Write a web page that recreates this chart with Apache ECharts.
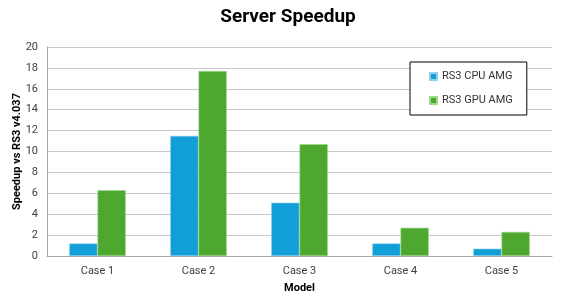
<!DOCTYPE html>
<html>
<head>
<meta charset="utf-8">
<script src="https://cdn.jsdelivr.net/npm/echarts@6/dist/echarts.min.js"></script>
<style>
  html, body { margin: 0; padding: 0; background: #fff; }
  #chart { width: 576px; height: 301px; }
</style>
</head>
<body>
<div id="chart"></div>
<script>
// data
const categories = ["Case 1", "Case 2", "Case 3", "Case 4", "Case 5"];
const cpuAmg = [1.2, 11.5, 5.1, 1.2, 0.7];
const gpuAmg = [6.3, 17.7, 10.7, 2.7, 2.3];
const seriesNames = ["RS3 CPU AMG", "RS3 GPU AMG"];

const chart = echarts.init(document.getElementById("chart"));
const font = "Roboto, 'Liberation Sans', sans-serif";

const option = {
  animation: false,
  title: {
    text: "Server Speedup",
    left: "center",
    top: 3,
    textStyle: { fontFamily: font, fontSize: 19, fontWeight: "bold", color: "#000" }
  },
  legend: {
    orient: "vertical",
    left: 410,
    top: 62,
    padding: [9, 14, 9, 19],
    itemGap: 13,
    itemWidth: 7,
    itemHeight: 7,
    icon: "rect",
    borderColor: "#000",
    borderWidth: 1,
    backgroundColor: "#fff",
    textStyle: { fontFamily: font, fontSize: 11, color: "#333" },
    data: seriesNames
  },
  grid: { left: 47, right: 24, top: 47, bottom: 45, containLabel: false, outerBoundsMode: "none" },
  xAxis: {
    type: "category",
    data: categories,
    name: "Model",
    nameLocation: "middle",
    nameGap: 27,
    nameMoveOverlap: false,
    nameTextStyle: { fontFamily: font, fontSize: 11, fontWeight: "bold", color: "#000" },
    axisLine: { lineStyle: { color: "#a6a6a6", width: 1 } },
    axisTick: { show: false },
    axisLabel: { fontFamily: font, fontSize: 11, color: "#404040", margin: 10 }
  },
  yAxis: {
    type: "value",
    min: 0,
    max: 20,
    interval: 2,
    name: "Speedup vs RS3 v4.037",
    nameLocation: "middle",
    nameRotate: 90,
    nameGap: 24,
    nameMoveOverlap: false,
    nameTextStyle: { fontFamily: font, fontSize: 11, fontWeight: "bold", color: "#000" },
    axisLine: { show: true, lineStyle: { color: "#a6a6a6", width: 1 } },
    axisTick: { show: false },
    splitLine: { lineStyle: { color: "#c8c8c8", width: 1 } },
    axisLabel: { fontFamily: font, fontSize: 11, color: "#404040", margin: 9 }
  },
  series: [
    {
      name: seriesNames[0],
      type: "bar",
      data: cpuAmg,
      barGap: "0%",
      barCategoryGap: "44%",
      itemStyle: { color: "#129ed6", borderColor: "#8fd0ef", borderWidth: 0.6 }
    },
    {
      name: seriesNames[1],
      type: "bar",
      data: gpuAmg,
      itemStyle: { color: "#4ea72e", borderColor: "#9ed98a", borderWidth: 0.6 }
    }
  ]
};

chart.setOption(option);
</script>
</body>
</html>
